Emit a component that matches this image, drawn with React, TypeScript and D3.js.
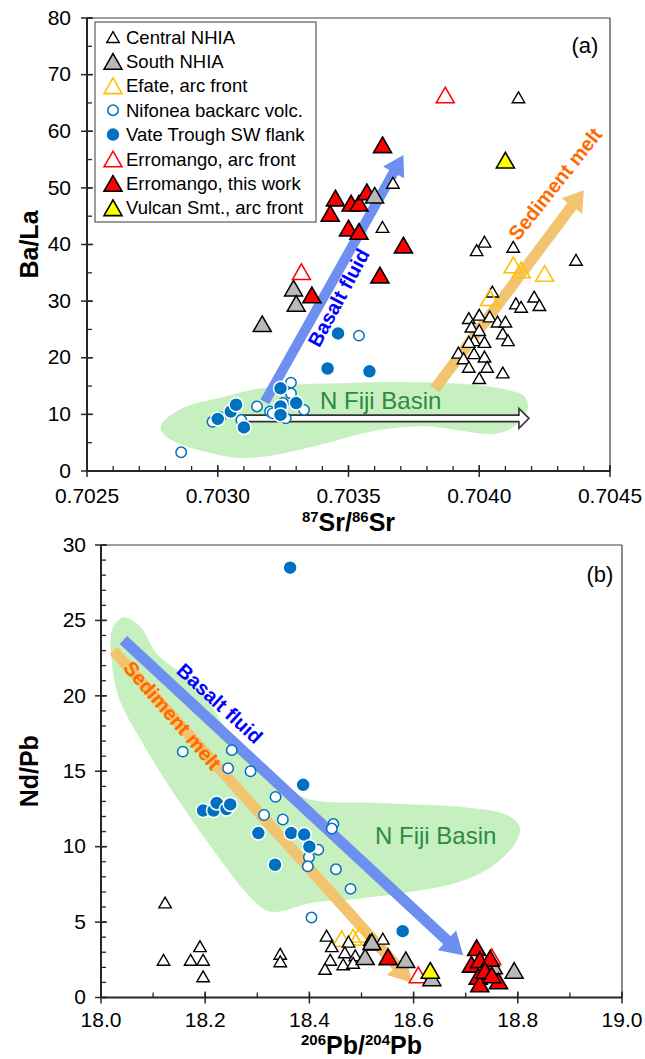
import React from 'react';
import * as d3 from 'd3';

type P = [number, number];

// ---------------- Panel (a): 87Sr/86Sr vs Ba/La ----------------
const aCentralNHIA: P[] = [
  [0.70415, 66.0], [0.70367, 50.9], [0.70363, 43.1], [0.70402, 40.5], [0.70399, 39.0], [0.70413, 39.6],
  [0.70437, 37.3], [0.70405, 31.7], [0.70421, 30.8], [0.70414, 29.6], [0.70416, 29.0], [0.70423, 29.3],
  [0.70396, 27.0], [0.704, 27.6], [0.70404, 27.3], [0.70407, 26.4], [0.7041, 26.4], [0.70397, 25.5],
  [0.704, 24.9], [0.70409, 24.3], [0.70411, 23.1], [0.70398, 23.1], [0.70396, 22.8], [0.70402, 22.8],
  [0.70392, 20.9], [0.70394, 19.9], [0.70398, 20.8], [0.70402, 20.2], [0.70396, 18.4], [0.70403, 18.4],
  [0.70409, 17.4], [0.704, 16.4],
];
const aSouthNHIA: P[] = [[0.7036, 48.7], [0.70329, 32.3], [0.7033, 29.6], [0.70317, 26.0]];
const aEfate: P[] = [[0.70413, 36.4], [0.70416, 35.5], [0.70425, 34.9], [0.70404, 30.6]];
const aNifonea: P[] = [
  [0.70354, 23.9], [0.70286, 3.3], [0.70328, 15.6], [0.70328, 13.7], [0.70315, 11.4], [0.7032, 10.5],
  [0.70333, 10.8], [0.70326, 9.3], [0.70298, 8.7], [0.70309, 9.0], [0.70321, 10.2], [0.70325, 12.0], [0.70301, 9.5],
];
const aVate: P[] = [
  [0.70346, 24.3], [0.70342, 18.1], [0.70358, 17.6], [0.703, 9.2], [0.70305, 10.5], [0.70307, 11.7],
  [0.7031, 7.7], [0.70324, 14.6], [0.70324, 11.4], [0.7033, 12.0], [0.70324, 9.9],
];
const aErroArc: P[] = [[0.70387, 66.4], [0.70332, 35.2]];
const aErroWork: P[] = [
  [0.70363, 57.6], [0.70345, 48.2], [0.70351, 47.3], [0.70354, 47.3], [0.70357, 49.3], [0.70343, 45.5],
  [0.7035, 42.9], [0.70354, 42.3], [0.70371, 39.9], [0.70362, 34.6], [0.70336, 31.1],
];
const aVulcan: P[] = [[0.7041, 54.9]];

const aFijiField: P[] = [
  [0.702783, 8.1], [0.702856, 10.9], [0.703024, 13.1], [0.70315, 14.5], [0.703276, 15.2], [0.703467, 15.5],
  [0.703724, 15.7], [0.703984, 15.2], [0.70411, 14.3], [0.704175, 13.1], [0.704186, 11.3], [0.704167, 9.4],
  [0.70411, 7.2], [0.704041, 6.5], [0.70393, 7.1], [0.703792, 7.9], [0.703601, 7.1], [0.703406, 4.8],
  [0.703215, 2.8], [0.703085, 2.3], [0.702951, 3.4], [0.702829, 5.3], [0.702787, 6.9],
];
const aBasaltArrow: P[] = [[0.70318, 12.2], [0.70371, 55.8]];
const aSedimentArrow: P[] = [[0.70383, 14.5], [0.7044, 49.6]];
const aFijiArrow: P[] = [[0.70309, 9.3], [0.70419, 9.3]];
const aFijiLabel: P = [0.703391, 10.9];
const aBasaltLabel: P = [0.703462, 30.6];
const aSedimentLabel: P = [0.70429, 50.7];

const aXTicks = [0.7025, 0.703, 0.7035, 0.704, 0.7045];
const aYTicks = [0, 10, 20, 30, 40, 50, 60, 70, 80];

// ---------------- Panel (b): 206Pb/204Pb vs Nd/Pb ----------------
const bCentralNHIA: P[] = [
  [18.123, 6.3], [18.12, 2.5], [18.172, 2.5], [18.19, 3.4], [18.196, 2.5], [18.196, 1.4], [18.344, 2.9],
  [18.344, 2.4], [18.433, 4.1], [18.475, 3.7], [18.443, 3.4], [18.468, 3.0], [18.44, 2.5], [18.488, 2.8],
  [18.465, 2.2], [18.43, 1.9], [18.484, 2.3], [18.516, 3.8], [18.541, 3.9], [18.52, 3.5],
];
const bSouthNHIA: P[] = [[18.507, 2.7], [18.585, 2.5], [18.52, 3.7], [18.635, 1.3], [18.753, 2.1], [18.793, 1.8]];
const bEfate: P[] = [[18.462, 3.9], [18.484, 4.0], [18.497, 4.2]];
const bNifonea: P[] = [
  [18.157, 16.3], [18.251, 16.4], [18.244, 15.2], [18.287, 15.0], [18.335, 13.3], [18.313, 12.1],
  [18.349, 11.8], [18.446, 11.5], [18.443, 11.2], [18.417, 9.8], [18.399, 9.3], [18.397, 8.7],
  [18.451, 8.5], [18.479, 7.2], [18.404, 5.3],
];
const bVate: P[] = [
  [18.363, 28.5], [18.388, 14.1], [18.196, 12.4], [18.216, 12.4], [18.222, 12.9], [18.241, 12.5],
  [18.248, 12.8], [18.302, 10.9], [18.365, 10.9], [18.39, 10.8], [18.4, 10.0], [18.334, 8.8], [18.579, 4.4],
];
const bErroArc: P[] = [[18.609, 1.5], [18.75, 2.7]];
const bErroWork: P[] = [
  [18.551, 2.7], [18.721, 3.3], [18.711, 2.2], [18.727, 2.5], [18.747, 2.6], [18.724, 1.4],
  [18.727, 0.9], [18.763, 1.1], [18.737, 1.8], [18.75, 1.5],
];
const bVulcan: P[] = [[18.632, 1.8]];

const bFijiField: P[] = [
  [18.021, 24.4], [18.042, 25.2], [18.075, 24.6], [18.107, 22.8], [18.19, 20.4], [18.267, 16.4],
  [18.33, 14.6], [18.395, 13.2], [18.536, 12.9], [18.702, 12.6], [18.779, 12.1], [18.804, 11.3],
  [18.798, 10.4], [18.766, 9.1], [18.714, 8.0], [18.67, 7.5], [18.574, 6.9], [18.478, 6.5],
  [18.407, 6.3], [18.324, 5.7], [18.28, 6.9], [18.234, 8.9], [18.184, 11.3], [18.127, 14.2],
  [18.088, 16.4], [18.036, 19.7], [18.021, 22.2],
];
const bBasaltArrow: P[] = [[18.043, 23.7], [18.695, 2.8]];
const bSedimentArrow: P[] = [[18.024, 23.0], [18.596, 1.0]];
const bFijiLabel: P = [18.526, 10.2];
const bBasaltLabel: P = [18.228, 19.5];
const bSedimentLabel: P = [18.137, 18.7];

const bXTicks = [18.0, 18.2, 18.4, 18.6, 18.8, 19.0];
const bYTicks = [0, 5, 10, 15, 20, 25, 30];

const legendLabels = [
  'Central NHIA', 'South NHIA', 'Efate, arc front', 'Nifonea backarc volc.',
  'Vate Trough SW flank', 'Erromango, arc front', 'Erromango, this work', 'Vulcan Smt., arc front',
];

// ---------------- styles ----------------
const FONT = "'Liberation Sans', Arial, Helvetica, sans-serif";
type Kind = 'central' | 'south' | 'efate' | 'nifonea' | 'vate' | 'erroArc' | 'erroWork' | 'vulcan';
const legendKinds: Kind[] = ['central', 'south', 'efate', 'nifonea', 'vate', 'erroArc', 'erroWork', 'vulcan'];
const STY: Record<Kind, { shape: 'tri' | 'circ'; size: number; fill: string; stroke: string; sw: number }> = {
  central: { shape: 'tri', size: 12.5, fill: '#ffffff', stroke: '#000000', sw: 1.4 },
  south: { shape: 'tri', size: 18, fill: '#b9b9b9', stroke: '#000000', sw: 1.5 },
  efate: { shape: 'tri', size: 18, fill: 'none', stroke: '#ffc000', sw: 1.6 },
  nifonea: { shape: 'circ', size: 5.2, fill: '#ffffff', stroke: '#0070c0', sw: 1.5 },
  vate: { shape: 'circ', size: 7, fill: '#0070c0', stroke: '#ffffff', sw: 1.5 },
  erroArc: { shape: 'tri', size: 18, fill: '#ffffff', stroke: '#ff0000', sw: 1.5 },
  erroWork: { shape: 'tri', size: 18, fill: '#ff0000', stroke: '#000000', sw: 1.6 },
  vulcan: { shape: 'tri', size: 18, fill: '#ffff00', stroke: '#000000', sw: 1.6 },
};

const BLUE_ARROW = '#6d8ff0';
const ORANGE_ARROW = '#f2c46f';
const FIELD = '#c7f0c1';
const TICK_FONT = 21;

function Marker({ kind, x, y, scale = 1 }: { kind: Kind; x: number; y: number; scale?: number }) {
  const s = STY[kind];
  if (s.shape === 'circ') {
    return <circle cx={x} cy={y} r={s.size * scale} fill={s.fill} stroke={s.stroke} strokeWidth={s.sw} />;
  }
  const w = s.size * scale;
  const h = w * 0.87;
  const d = `M${x},${y - h / 2}L${x + w / 2},${y + h / 2}L${x - w / 2},${y + h / 2}Z`;
  return <path d={d} fill={s.fill} stroke={s.stroke} strokeWidth={s.sw} strokeLinejoin="miter" />;
}

function arrowPoints(x0: number, y0: number, x1: number, y1: number, bw: number, hw: number, hl: number) {
  const dx = x1 - x0, dy = y1 - y0;
  const L = Math.hypot(dx, dy);
  const ux = dx / L, uy = dy / L;
  const nx = -uy, ny = ux;
  const bx = x1 - ux * hl, by = y1 - uy * hl;
  const pts: P[] = [
    [x0 + nx * bw / 2, y0 + ny * bw / 2],
    [bx + nx * bw / 2, by + ny * bw / 2],
    [bx + nx * hw / 2, by + ny * hw / 2],
    [x1, y1],
    [bx - nx * hw / 2, by - ny * hw / 2],
    [bx - nx * bw / 2, by - ny * bw / 2],
    [x0 - nx * bw / 2, y0 - ny * bw / 2],
  ];
  return pts.map((p) => p.join(',')).join(' ');
}

type Series = { kind: Kind; data: P[] };

function Panel(props: {
  xDomain: [number, number]; yDomain: [number, number];
  xRange: [number, number]; yRange: [number, number];
  xTicks: number[]; yTicks: number[]; xMinor: number; yMinor: number;
  xFmt: (v: number) => string; yLabelOffset: number; xLabelOffset: number;
  field: P[]; arrows: { pts: P[]; color: string; bw: number; hw: number; hl: number }[];
  fijiArrow?: P[]; fijiLabel: P; basaltLabel: P; basaltAngle: number; sedLabel: P; sedAngle: number;
  series: Series[]; panelLabel: string; panelLabelPos: P;
  xTitle: [string, string, string, string]; yTitle: string; xTitleY: number;
}) {
  const x = d3.scaleLinear().domain(props.xDomain).range(props.xRange);
  const y = d3.scaleLinear().domain(props.yDomain).range(props.yRange);
  const [x0, x1] = props.xRange;
  const [yb, yt] = props.yRange;
  const area = d3.line<P>().x((d) => x(d[0])).y((d) => y(d[1])).curve(d3.curveCatmullRomClosed.alpha(0.5));
  const xMinorTicks = d3.range(props.xDomain[0], props.xDomain[1] + 1e-9, props.xMinor);
  const yMinorTicks = d3.range(props.yDomain[0], props.yDomain[1] + 1e-9, props.yMinor);
  const axisColor = '#262626';

  let fiji: string | null = null;
  if (props.fijiArrow) {
    const [a, b] = props.fijiArrow;
    fiji = arrowPoints(x(a[0]), y(a[1]), x(b[0]), y(b[1]), 6.5, 20, 10);
  }

  return (
    <g>
      <path d={area(props.field) || ''} fill={FIELD} stroke="none" />
      {props.arrows.map((a, i) => (
        <polygon key={i} points={arrowPoints(x(a.pts[0][0]), y(a.pts[0][1]), x(a.pts[1][0]), y(a.pts[1][1]), a.bw, a.hw, a.hl)} fill={a.color} />
      ))}
      {fiji && <polygon points={fiji} fill="#ffffff" stroke="#333333" strokeWidth={1.6} strokeLinejoin="miter" />}
      <text x={x(props.fijiLabel[0])} y={y(props.fijiLabel[1])} fontFamily={FONT} fontSize={24} fill="#2e8a3e">N Fiji Basin</text>
      {props.series.map((s, i) => (
        <g key={i}>
          {s.data.map((d, j) => <Marker key={j} kind={s.kind} x={x(d[0])} y={y(d[1])} />)}
        </g>
      ))}
      <text transform={`translate(${x(props.basaltLabel[0])},${y(props.basaltLabel[1])}) rotate(${props.basaltAngle})`}
        textAnchor="middle" dominantBaseline="central" fontFamily={FONT} fontWeight="bold" fontSize={20} fill="#0000ff">Basalt fluid</text>
      <text transform={`translate(${x(props.sedLabel[0])},${y(props.sedLabel[1])}) rotate(${props.sedAngle})`}
        textAnchor="middle" dominantBaseline="central" fontFamily={FONT} fontWeight="bold" fontSize={20} fill="#ff6a00">Sediment melt</text>

      {/* frame */}
      <line x1={x0} y1={yt} x2={x1} y2={yt} stroke="#404040" strokeWidth={1.2} />
      <line x1={x1} y1={yt} x2={x1} y2={yb} stroke="#404040" strokeWidth={1.2} />
      <line x1={x0} y1={yb} x2={x1} y2={yb} stroke={axisColor} strokeWidth={2} />
      <line x1={x0} y1={yt} x2={x0} y2={yb} stroke={axisColor} strokeWidth={2} />
      {xMinorTicks.map((t, i) => (
        <line key={'xm' + i} x1={x(t)} x2={x(t)} y1={yb} y2={yb - 5} stroke={axisColor} strokeWidth={1.3} />
      ))}
      {props.xTicks.map((t, i) => (
        <g key={'x' + i}>
          <line x1={x(t)} x2={x(t)} y1={yb + 6} y2={yb - 6} stroke={axisColor} strokeWidth={1.5} />
          <text x={x(t)} y={yb + props.xLabelOffset} textAnchor="middle" fontFamily={FONT} fontSize={TICK_FONT} fill="#000">{props.xFmt(t)}</text>
        </g>
      ))}
      {yMinorTicks.map((t, i) => (
        <line key={'ym' + i} x1={x0} x2={x0 + 5} y1={y(t)} y2={y(t)} stroke={axisColor} strokeWidth={1.3} />
      ))}
      {props.yTicks.map((t, i) => (
        <g key={'y' + i}>
          <line x1={x0 - 6} x2={x0 + 6} y1={y(t)} y2={y(t)} stroke={axisColor} strokeWidth={1.5} />
          <text x={x0 - props.yLabelOffset} y={y(t)} dy="0.32em" textAnchor="end" fontFamily={FONT} fontSize={TICK_FONT} fill="#000">{t}</text>
        </g>
      ))}
      <text x={props.panelLabelPos[0]} y={props.panelLabelPos[1]} textAnchor="middle" dominantBaseline="central" fontFamily={FONT} fontSize={22}>{props.panelLabel}</text>
      <text x={(x0 + x1) / 2} y={props.xTitleY} textAnchor="middle" fontFamily={FONT} fontWeight="bold" fontSize={25}>
        <tspan fontSize={15} dy={-9}>{props.xTitle[0]}</tspan>
        <tspan dy={9}>{props.xTitle[1]}</tspan>
        <tspan fontSize={15} dy={-9}>{props.xTitle[2]}</tspan>
        <tspan dy={9}>{props.xTitle[3]}</tspan>
      </text>
      <text transform={`translate(38,${(yt + yb) / 2}) rotate(-90)`} textAnchor="middle" fontFamily={FONT} fontWeight="bold" fontSize={25}>{props.yTitle}</text>
    </g>
  );
}

function Legend() {
  const left = 95, top = 22, w = 221, h = 200;
  const step = 24.4;
  return (
    <g>
      <rect x={left} y={top} width={w} height={h} fill="#ffffff" stroke="#595959" strokeWidth={1.2} />
      {legendLabels.map((lab, i) => {
        const cy = top + 15 + i * step;
        return (
          <g key={i}>
            <Marker kind={legendKinds[i]} x={113} y={cy} />
            <text x={126} y={cy} dy="0.36em" fontFamily={FONT} fontSize={18.5} fill="#000">{lab}</text>
          </g>
        );
      })}
    </g>
  );
}

export default function App() {
  const aSeries: Series[] = [
    { kind: 'central', data: aCentralNHIA },
    { kind: 'efate', data: aEfate },
    { kind: 'nifonea', data: aNifonea },
    { kind: 'vate', data: aVate },
    { kind: 'erroWork', data: aErroWork },
    { kind: 'south', data: aSouthNHIA },
    { kind: 'erroArc', data: aErroArc },
    { kind: 'vulcan', data: aVulcan },
  ];
  const bSeries: Series[] = [
    { kind: 'efate', data: bEfate },
    { kind: 'central', data: bCentralNHIA },
    { kind: 'nifonea', data: bNifonea },
    { kind: 'vate', data: bVate },
    { kind: 'erroArc', data: bErroArc },
    { kind: 'south', data: bSouthNHIA },
    { kind: 'erroWork', data: bErroWork },
    { kind: 'vulcan', data: bVulcan },
  ];
  return (
    <svg width={645} height={1059} viewBox="0 0 645 1059" style={{ position: 'absolute', left: 0, top: 0, background: '#fff' }}>
      <rect x={0} y={0} width={645} height={1059} fill="#ffffff" />
      <Panel
        xDomain={[0.7025, 0.7045]} yDomain={[0, 80]} xRange={[87, 610]} yRange={[471, 18]}
        xTicks={aXTicks} yTicks={aYTicks} xMinor={0.0001} yMinor={5}
        xFmt={(v) => v.toFixed(4)} yLabelOffset={16} xLabelOffset={32}
        field={aFijiField}
        arrows={[
          { pts: aBasaltArrow, color: BLUE_ARROW, bw: 10, hw: 24, hl: 20 },
          { pts: aSedimentArrow, color: ORANGE_ARROW, bw: 11, hw: 26, hl: 20 },
        ]}
        fijiArrow={aFijiArrow} fijiLabel={aFijiLabel}
        basaltLabel={aBasaltLabel} basaltAngle={-61.8} sedLabel={aSedimentLabel} sedAngle={-51.6}
        series={aSeries} panelLabel="(a)" panelLabelPos={[585, 45]}
        xTitle={['87', 'Sr/', '86', 'Sr']} yTitle="Ba/La" xTitleY={531}
      />
      <Legend />
      <Panel
        xDomain={[18.0, 19.0]} yDomain={[0, 30]} xRange={[101, 622]} yRange={[997.5, 545]}
        xTicks={bXTicks} yTicks={bYTicks} xMinor={0.1} yMinor={1}
        xFmt={(v) => v.toFixed(1)} yLabelOffset={15} xLabelOffset={29}
        field={bFijiField}
        arrows={[
          { pts: bSedimentArrow, color: ORANGE_ARROW, bw: 11, hw: 27, hl: 22 },
          { pts: bBasaltArrow, color: BLUE_ARROW, bw: 11, hw: 27, hl: 22 },
        ]}
        fijiLabel={bFijiLabel}
        basaltLabel={bBasaltLabel} basaltAngle={42.5} sedLabel={bSedimentLabel} sedAngle={49}
        series={bSeries} panelLabel="(b)" panelLabelPos={[600, 574]}
        xTitle={['206', 'Pb/', '204', 'Pb']} yTitle="Nd/Pb" xTitleY={1054}
      />
    </svg>
  );
}
